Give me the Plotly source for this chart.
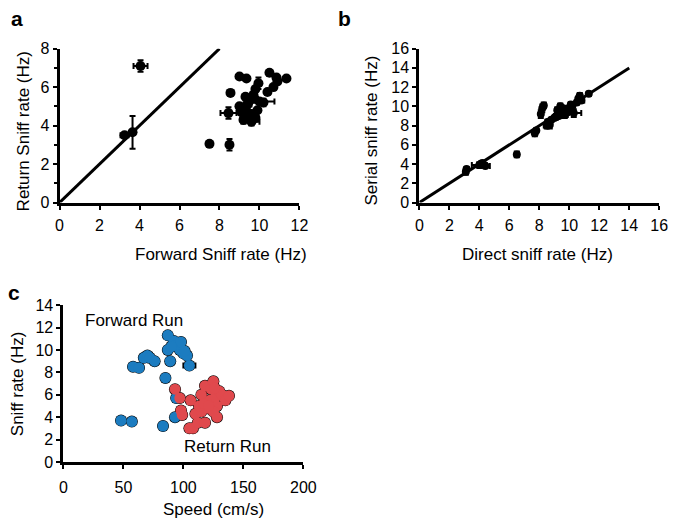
import plotly.graph_objects as go

# ---------------- Panel a data ----------------
a_forward = [4.05, 3.65, 3.25, 7.5, 8.5, 8.55, 8.45, 9.0, 9.35, 9.95, 10.5, 10.9, 11.35, 10.4,
             10.0, 9.5, 9.3, 9.6, 9.8, 9.2, 9.0, 9.7, 9.4, 9.9, 9.6, 9.3, 9.8, 10.2, 9.5, 9.1,
             10.7, 10.85, 9.6, 9.75]
a_return = [7.1, 3.65, 3.5, 3.05, 3.0, 5.7, 4.65, 6.55, 6.45, 6.2, 6.75, 6.3, 6.45, 5.75,
            5.25, 5.3, 4.9, 4.6, 4.4, 4.3, 5.0, 5.6, 5.1, 4.8, 4.2, 5.5, 5.9, 5.2, 4.5, 4.7,
            6.0, 6.5, 4.3, 5.4]
a_xerr = [0.35, 0.1, 0.2, 0.05, 0.05, 0.05, 0.4, 0.1, 0.1, 0.1, 0.1, 0.1, 0.1, 0.1,
          0.75, 0.2, 0.2, 0.1, 0.1, 0.15, 0.1, 0.1, 0.2, 0.1, 0.4, 0.1, 0.1, 0.1, 0.1, 0.1,
          0.1, 0.1, 0.1, 0.1]
a_yerr = [0.3, 0.85, 0.1, 0.1, 0.3, 0.1, 0.3, 0.1, 0.1, 0.3, 0.1, 0.1, 0.1, 0.1,
          0.1, 0.2, 0.2, 0.1, 0.1, 0.2, 0.1, 0.1, 0.1, 0.1, 0.1, 0.1, 0.1, 0.2, 0.3, 0.1,
          0.1, 0.1, 0.3, 0.1]

# ---------------- Panel b data ----------------
b_direct = [3.1, 3.15, 4.0, 4.2, 4.4, 6.5, 7.7, 7.8, 8.1, 8.2, 8.3, 8.5, 8.6, 8.8, 9.0, 9.2,
            9.3, 9.4, 9.5, 9.6, 9.7, 9.8, 9.9, 10.0, 10.1, 10.2, 10.3, 10.5, 10.6, 10.7,
            10.8, 11.3, 8.7, 9.1]
b_serial = [3.2, 3.5, 3.9, 4.1, 3.8, 5.0, 7.2, 7.5, 9.2, 9.8, 10.1, 8.0, 8.4, 8.6, 8.8, 9.6,
            9.0, 10.0, 9.3, 9.8, 9.1, 9.7, 9.4, 9.8, 10.2, 10.0, 9.3, 10.4, 10.8, 11.1,
            10.6, 11.3, 8.1, 8.9]
b_xerr = [0.1, 0.1, 0.5, 0.2, 0.3, 0.1, 0.1, 0.1, 0.1, 0.1, 0.1, 0.2, 0.2, 0.1, 0.1, 0.1,
          0.2, 0.1, 0.2, 0.1, 0.2, 0.1, 0.1, 0.2, 0.1, 0.1, 0.5, 0.1, 0.1, 0.1, 0.2, 0.1,
          0.1, 0.2]
b_yerr = [0.3, 0.2, 0.3, 0.2, 0.2, 0.3, 0.3, 0.2, 0.4, 0.4, 0.3, 0.3, 0.2, 0.2, 0.2, 0.3,
          0.2, 0.3, 0.2, 0.2, 0.3, 0.2, 0.2, 0.3, 0.2, 0.2, 0.4, 0.2, 0.2, 0.3, 0.2, 0.2,
          0.4, 0.3]

# ---------------- Panel c data ----------------
fwd_speed = [48, 57, 83, 93, 94, 85, 58, 63, 67, 70, 72, 76, 87, 87, 89, 92, 95, 97, 100,
             103, 105, 98, 101, 90]
fwd_sniff = [3.7, 3.6, 3.2, 4.0, 5.7, 7.5, 8.5, 8.4, 9.3, 9.5, 9.3, 9.0, 11.3, 10.0, 9.0,
             10.8, 10.5, 10.0, 9.7, 9.5, 8.6, 10.7, 9.9, 10.3]
fwd_xerr = [1, 1, 1, 1, 1, 1, 3, 2, 2, 3, 2, 3, 1, 3, 1, 1, 2, 1, 2, 2, 5, 2, 1, 1]
fwd_yerr = [0.1, 0.1, 0.1, 0.1, 0.1, 0.1, 0.2, 0.1, 0.3, 0.3, 0.4, 0.3, 0.1, 0.3, 0.1, 0.2,
            0.4, 0.2, 0.3, 0.2, 0.1, 0.2, 0.2, 0.2]
ret_speed = [93, 97, 98, 99, 106, 105, 108, 110, 112, 115, 115, 118, 118, 120, 122, 123,
             125, 127, 128, 130, 132, 135, 138, 125, 128, 113, 117, 121, 126]
ret_sniff = [6.5, 5.7, 4.6, 4.2, 5.5, 3.0, 3.0, 4.3, 3.5, 4.5, 6.0, 6.8, 3.5, 4.8, 5.5, 6.5,
             7.2, 5.8, 5.0, 6.3, 6.0, 5.5, 5.9, 4.5, 4.0, 5.0, 5.2, 5.0, 6.6]
ret_xerr = [1, 1, 1, 1, 1, 1, 1, 2, 1, 2, 1, 1, 1, 3, 1, 1, 1, 2, 2, 1, 1, 1, 1, 3, 2, 1, 2, 1, 1]
ret_yerr = [0.3, 0.1, 0.2, 0.2, 0.1, 0.1, 0.1, 0.2, 0.1, 0.3, 0.1, 0.2, 0.1, 0.3, 0.2, 0.3,
            0.2, 0.2, 0.3, 0.1, 0.2, 0.1, 0.1, 0.3, 0.2, 0.2, 0.3, 0.2, 0.2]

BLUE = "#1c7cc0"
RED = "#e0494d"
FONT = "Arial, Liberation Sans, sans-serif"

fig = go.Figure()

# Panel a
fig.add_trace(go.Scatter(x=[0, 8], y=[0, 8], mode="lines", line=dict(color="black", width=3),
                         xaxis="x", yaxis="y", showlegend=False, hoverinfo="skip"))
fig.add_trace(go.Scatter(
    x=a_forward, y=a_return, mode="markers", xaxis="x", yaxis="y", showlegend=False,
    marker=dict(color="black", size=10),
    error_x=dict(type="data", array=a_xerr, color="black", thickness=2, width=3),
    error_y=dict(type="data", array=a_yerr, color="black", thickness=2, width=3)))

# Panel b
fig.add_trace(go.Scatter(x=[0, 14], y=[0, 14], mode="lines", line=dict(color="black", width=3),
                         xaxis="x2", yaxis="y2", showlegend=False, hoverinfo="skip"))
fig.add_trace(go.Scatter(
    x=b_direct, y=b_serial, mode="markers", xaxis="x2", yaxis="y2", showlegend=False,
    marker=dict(color="black", size=8),
    error_x=dict(type="data", array=b_xerr, color="black", thickness=2, width=3),
    error_y=dict(type="data", array=b_yerr, color="black", thickness=2, width=3)))

# Panel c
for xs, ys, xe, ye in [(fwd_speed, fwd_sniff, fwd_xerr, fwd_yerr),
                       (ret_speed, ret_sniff, ret_xerr, ret_yerr)]:
    fig.add_trace(go.Scatter(
        x=xs, y=ys, mode="markers", xaxis="x3", yaxis="y3", showlegend=False,
        marker=dict(color="black", size=12),
        error_x=dict(type="data", array=xe, color="black", thickness=2, width=3),
        error_y=dict(type="data", array=ye, color="black", thickness=2, width=3)))
for xs, ys, col in [(fwd_speed, fwd_sniff, BLUE), (ret_speed, ret_sniff, RED)]:
    fig.add_trace(go.Scatter(
        x=xs, y=ys, mode="markers", xaxis="x3", yaxis="y3", showlegend=False,
        marker=dict(color=col, size=11)))

def ax(domain, rng, dtick, anchor, standoff, minor=None):
    d = dict(domain=domain, range=rng, dtick=dtick, tick0=0, anchor=anchor,
             showgrid=False, zeroline=False, showline=True, linecolor="black", linewidth=3,
             ticks="outside", ticklen=4, tickwidth=2, tickcolor="black",
             tickfont=dict(family=FONT, size=16, color="black"),
             ticklabelstandoff=standoff, fixedrange=True)
    if minor:
        d["minor"] = dict(ticks="outside", dtick=minor, ticklen=3, tickwidth=2, tickcolor="black")
    return d

H, W = 529.0, 681.0
def py(p):
    return 1 - p / H

fig.update_layout(
    width=681, height=529, margin=dict(l=0, r=0, t=0, b=0),
    paper_bgcolor="white", plot_bgcolor="white",
    font=dict(family=FONT, color="black"),
    xaxis=ax([57 / W, 303 / W], [0, 12], 2, "y", 2),
    yaxis=ax([py(201), py(42)], [0, 8], 2, "x", 0, minor=1),
    xaxis2=ax([426 / W, 672 / W], [0, 16], 2, "y2", 2),
    yaxis2=ax([py(201), py(42)], [0, 16], 2, "x2", 0),
    xaxis3=ax([61 / W, 307 / W], [0, 200], 50, "y3", 5),
    yaxis3=ax([py(469), py(307)], [0, 14], 2, "x3", 0),
)

annos = [
    ("a", 13, 11, 21, True, 0),
    ("b", 349, 11, 21, True, 0),
    ("c", 10, 294, 21, True, 0),
    ("Forward Sniff rate (Hz)", 223, 255, 17, False, 0),
    ("Return Sniff rate (Hz)", 20, 128, 17, False, -90),
    ("Direct sniff rate (Hz)", 547, 255, 17, False, 0),
    ("Serial sniff rate (Hz)", 377, 127, 17, False, -90),
    ("Speed (cm/s)", 215, 518, 17, False, 0),
    ("Sniff rate (Hz)", 14, 388, 17, False, -90),
    ("Forward Run", 133, 323, 17, False, 0),
    ("Return Run", 229, 453, 17, False, 0),
]
for txt, x, y, size, bold, ang in annos:
    fig.add_annotation(
        text=f"<b>{txt}</b>" if bold else txt, x=x / W, y=py(y), xref="paper", yref="paper",
        xanchor="center", yanchor="middle", showarrow=False, textangle=ang,
        font=dict(family=FONT, size=size, color="black"))

fig.write_html("out.html", config={"displayModeBar": False},
               post_script="document.body.style.margin='0px';")
